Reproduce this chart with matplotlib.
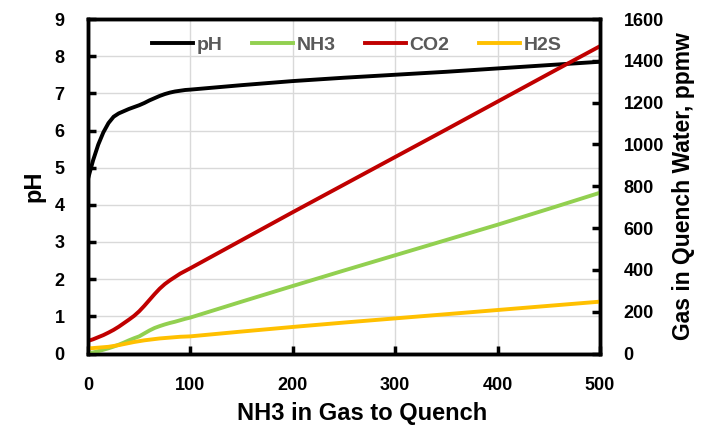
import matplotlib
matplotlib.use('Agg')
import matplotlib.pyplot as plt

# fonts - bold sans like the excel chart
plt.rcParams['font.family'] = ['Liberation Sans Narrow', 'Liberation Sans', 'DejaVu Sans']
plt.rcParams['font.weight'] = 'bold'

# data (x = NH3 in gas to quench)
nh3_gas = [0, 5, 10, 15, 20, 25, 30, 35, 40, 45, 50, 55, 60, 65, 70, 75, 80, 85, 90, 95, 100,
           150, 200, 250, 300, 350, 400, 450, 500]
ph = [4.7, 5.2, 5.62, 5.95, 6.2, 6.37, 6.46, 6.52, 6.58, 6.63, 6.68, 6.74, 6.81, 6.87, 6.93, 6.98, 7.02, 7.05, 7.07, 7.09, 7.1,
      7.22, 7.33, 7.42, 7.5, 7.58, 7.67, 7.76, 7.85]
nh3_water = [0, 5, 11, 18, 25, 33, 42, 52, 63, 73, 82, 96, 110, 122, 131, 139, 146, 152, 159, 166, 172,
             248, 323, 397, 470, 543, 616, 692, 769]
co2_water = [60, 68, 78, 88, 100, 113, 128, 145, 162, 180, 202, 228, 256, 284, 310, 332, 350, 366, 382, 395, 408,
             542, 676, 808, 940, 1072, 1205, 1338, 1470]
h2s_water = [24, 26, 28, 30, 32, 36, 40, 45, 50, 55, 59, 63, 66, 69, 72, 74, 76, 78, 80, 81, 82,
             105, 127, 148, 168, 188, 208, 228, 248]

fig = plt.figure(figsize=(7.02, 4.30), dpi=100)
ax = fig.add_axes([88/702, 1-353.5/430, 512/702, 334.5/430])
ax2 = ax.twinx()

# grid
for v in range(100, 500, 100):
    ax.axvline(v, color='#d9d9d9', lw=1, zorder=0)
for v in range(1, 9):
    ax.axhline(v, color='#d9d9d9', lw=1, zorder=0)

lw = 2.8
l1, = ax.plot(nh3_gas, ph, color='black', lw=lw, label='pH', solid_joinstyle='round')
l2, = ax2.plot(nh3_gas, nh3_water, color='#92D050', lw=lw, label='NH3', solid_joinstyle='round')
l3, = ax2.plot(nh3_gas, co2_water, color='#C00000', lw=lw, label='CO2', solid_joinstyle='round')
l4, = ax2.plot(nh3_gas, h2s_water, color='#FFC000', lw=lw, label='H2S', solid_joinstyle='round')

ax.set_xlim(0, 500)
ax.set_ylim(0, 9)
ax2.set_ylim(0, 1600)
ax.set_xticks(range(0, 501, 100))
ax.set_yticks(range(0, 10))
ax2.set_yticks(range(0, 1601, 200))

for a in (ax, ax2):
    for s in a.spines.values():
        s.set_linewidth(2.5)
ax.tick_params(axis='both', direction='in', length=6, width=2.5, labelsize=13, pad=17)
ax2.tick_params(axis='y', direction='in', length=6, width=2.5, labelsize=13, pad=17)

ax.set_xlabel('NH3 in Gas to Quench', fontsize=17, fontweight='bold')
ax.xaxis.set_label_coords(0.535, -0.145)
ax.set_ylabel('pH', fontsize=17, fontweight='bold', labelpad=6)
ax2.set_ylabel('Gas in Quench Water, ppmw', fontsize=16.5, fontweight='bold', labelpad=6)

leg = ax.legend(handles=[l1, l2, l3, l4], loc='upper center', bbox_to_anchor=(0.525, 1.0),
                ncol=4, frameon=False, fontsize=14, handlelength=2.1, handletextpad=0.2,
                columnspacing=1.5)
for t in leg.get_texts():
    t.set_color('#595959')

fig.savefig('out.png', dpi=100)
